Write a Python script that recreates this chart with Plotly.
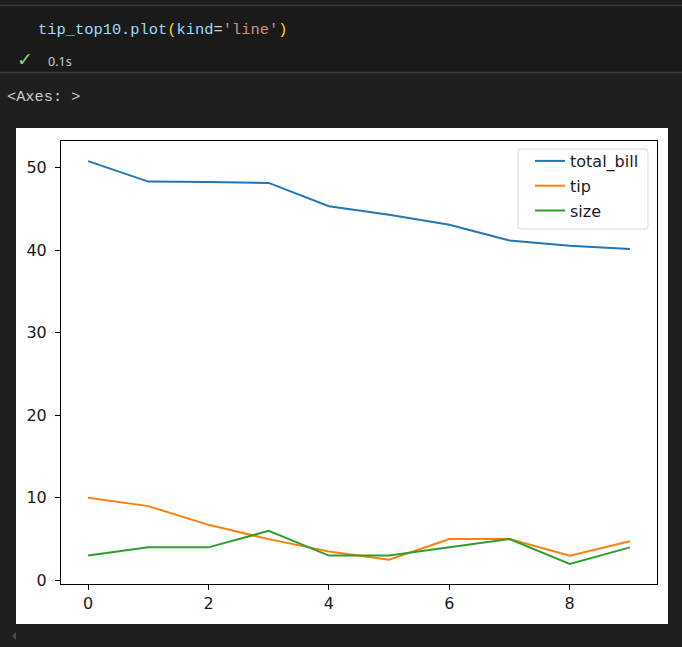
import plotly.graph_objects as go

# ---- data ----
index = list(range(10))
total_bill = [50.81, 48.33, 48.27, 48.17, 45.35, 44.30, 43.11, 41.19, 40.55, 40.17]
tip = [10.00, 9.00, 6.73, 5.00, 3.50, 2.50, 5.00, 5.00, 3.00, 4.73]
size = [3, 4, 4, 6, 3, 3, 4, 5, 2, 4]
series_names = ["total_bill", "tip", "size"]
series_colors = ["#1f77b4", "#ff7f0e", "#2ca02c"]
x_ticks = [0, 2, 4, 6, 8]
y_ticks = [0, 10, 20, 30, 40, 50]

W, H = 682, 647
L, R, T, B = 61, 657, 141, 584  # plot area in pixels


def px(x):
    return (x - L) / (R - L)


def py(y):
    return (B - y) / (B - T)


# matplotlib-like 5% margins
xmin, xmax = min(index), max(index)
allv = total_bill + tip + size
ymin, ymax = min(allv), max(allv)
xr = [xmin - 0.05 * (xmax - xmin), xmax + 0.05 * (xmax - xmin)]
yr = [ymin - 0.05 * (ymax - ymin), ymax + 0.05 * (ymax - ymin)]

fig = go.Figure()
for i, (name, vals) in enumerate(zip(series_names, [total_bill, tip, size])):
    fig.add_trace(go.Scatter(
        x=index, y=vals, mode="lines", name=name, legendgroup=name,
        line=dict(color=series_colors[i], width=2),
    ))

axis_common = dict(
    showline=True, mirror=True, linecolor="#000000", linewidth=1,
    ticks="outside", ticklen=5, tickwidth=1, tickcolor="#000000",
    showgrid=False, zeroline=False,
    tickfont=dict(family="DejaVu Sans", size=16, color="#1a1a1a"),
)

fig.update_layout(
    width=W, height=H,
    margin=dict(l=L, r=W - R, t=T, b=H - B, pad=0),
    paper_bgcolor="#1f1f1f",
    plot_bgcolor="#ffffff",
    xaxis=dict(range=xr, tickvals=x_ticks, ticklabelstandoff=0, **axis_common),
    yaxis=dict(range=yr, tickvals=y_ticks, ticklabelstandoff=5, **axis_common),
    legend=dict(
        x=px(530), y=py(144), xanchor="left", yanchor="top",
        bgcolor="rgba(0,0,0,0)", borderwidth=0,
        font=dict(family="DejaVu Sans", size=16, color="#1a1a1a"),
        tracegroupgap=1, itemwidth=30,
    ),
    showlegend=True,
)


def rounded_rect(x0, y0, x1, y1, r):
    # pixel coords -> paper path with rounded corners
    pts = [
        f"M {px(x0 + r)} {py(y0)}",
        f"L {px(x1 - r)} {py(y0)}",
        f"Q {px(x1)} {py(y0)} {px(x1)} {py(y0 + r)}",
        f"L {px(x1)} {py(y1 - r)}",
        f"Q {px(x1)} {py(y1)} {px(x1 - r)} {py(y1)}",
        f"L {px(x0 + r)} {py(y1)}",
        f"Q {px(x0)} {py(y1)} {px(x0)} {py(y1 - r)}",
        f"L {px(x0)} {py(y0 + r)}",
        f"Q {px(x0)} {py(y0)} {px(x0 + r)} {py(y0)}",
        "Z",
    ]
    return " ".join(pts)


shapes = []
# code cell background and separators
shapes.append(dict(type="rect", xref="paper", yref="paper", x0=px(0), x1=px(W), y0=py(6), y1=py(72),
                   fillcolor="#1a1a1a", line=dict(width=0), layer="below"))
shapes.append(dict(type="line", xref="paper", yref="paper", x0=px(0), x1=px(W), y0=py(5.5), y1=py(5.5),
                   line=dict(color="#3a3a3a", width=1.5)))
shapes.append(dict(type="line", xref="paper", yref="paper", x0=px(0), x1=px(W), y0=py(72.5), y1=py(72.5),
                   line=dict(color="#3a3a3a", width=1.5)))
# white image area
shapes.append(dict(type="rect", xref="paper", yref="paper", x0=px(16), x1=px(668), y0=py(128), y1=py(624),
                   fillcolor="#ffffff", line=dict(width=0), layer="below"))
# legend frame (matplotlib style, rounded)
shapes.append(dict(type="path", xref="paper", yref="paper", path=rounded_rect(518, 149, 648, 229, 3),
                   fillcolor="rgba(255,255,255,0.8)", line=dict(color="#d6d6d6", width=1)))
# small scroll arrow
shapes.append(dict(type="path", xref="paper", yref="paper",
                   path=f"M {px(16)} {py(632)} L {px(12)} {py(636)} L {px(16)} {py(640)} Z",
                   fillcolor="#4a4a4a", line=dict(width=0)))
fig.update_layout(shapes=shapes)

mono = "Liberation Mono"
code_parts = [
    ("tip_top10.plot", "#9cdcfe"),
    ("(", "#ffd700"),
    ("kind", "#9cdcfe"),
    ("=", "#d4d4d4"),
    ("'line'", "#ce9178"),
    (")", "#ffd700"),
]
code_html = "".join(f"<span style='color:{c}'>{t}</span>" for t, c in code_parts)

annotations = [
    dict(text=code_html, x=px(36), y=py(30), xanchor="left", yanchor="middle",
         font=dict(family=mono, size=15.4, color="#9cdcfe")),
    dict(text="✓", x=px(15), y=py(59), xanchor="left", yanchor="middle",
         font=dict(family="DejaVu Sans", size=19, color="#89d185")),
    dict(text="0.1s", x=px(46), y=py(61), xanchor="left", yanchor="middle",
         font=dict(family="Noto Sans", size=12.5, color="#cccccc")),
    dict(text="&lt;Axes: &gt;", x=px(5), y=py(96.5), xanchor="left", yanchor="middle",
         font=dict(family=mono, size=15.3, color="#cccccc")),
]
for a in annotations:
    a.update(xref="paper", yref="paper", showarrow=False)
fig.update_layout(annotations=annotations)

fig.write_html(
    "out.html",
    config={"displayModeBar": False},
    post_script="document.body.style.margin='0';document.body.style.background='#1f1f1f';",
)
